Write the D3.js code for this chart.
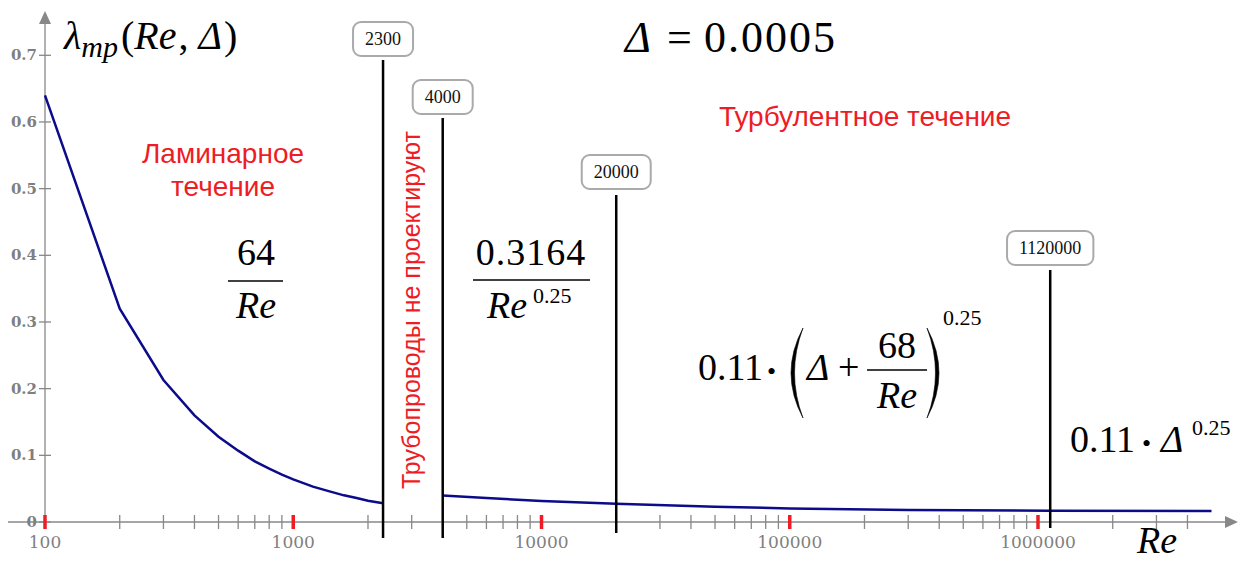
<!DOCTYPE html>
<meta charset="utf-8">
<style>
	body { margin: 0; background: #fff; }
	.axis path, .axis line { stroke: #888; stroke-width: 1.3; fill: none; }
	.ticklab { font: bold 15px "DejaVu Serif", serif; fill: #7f7f7f; }
	.curve { fill: none; stroke: #0c0c8a; stroke-width: 2.5; }
	.vline { stroke: #000; stroke-width: 2.5; }
	.box rect { fill: #fff; stroke: #aaa; stroke-width: 2; }
	.box text { font: 18px "Liberation Serif", serif; fill: #111; text-anchor: middle; }
	.note { font: 28px "Liberation Sans", "Noto Sans", sans-serif; fill: #ee1c25; }
	.math { font: 38px "Liberation Serif", serif; fill: #000; }
	.it { font-style: italic; }
	.bar { stroke: #000; stroke-width: 1.5; }
	.paren { fill: #000; stroke: #000; stroke-width: 0.6; }
</style>
<body>
<script src="https://cdn.jsdelivr.net/npm/d3@7"></script>
<script>
var width = 1240, height = 563;

// laminar part 64/Re
var lamRe = [100, 200, 300, 400, 500, 600, 700, 800, 900, 1000, 1200, 1400, 1600, 1800, 2000, 2300];
var lamL  = [0.64, 0.32, 0.213, 0.16, 0.128, 0.107, 0.091, 0.08, 0.071, 0.064, 0.053, 0.046, 0.04, 0.036, 0.032, 0.028];
// turbulent part
var turbRe = [4000, 6000, 10000, 20000, 50000, 100000, 300000, 1120000, 5000000];
var turbL  = [0.0398, 0.036, 0.0316, 0.0275, 0.0228, 0.0204, 0.0181, 0.0169, 0.0165];
// marked boundaries
var marks = [2300, 4000, 20000, 1120000];
var markTop = [60, 118, 195, 270];
var markBottom = [538, 538, 533, 528];
var boxY = [39, 97, 172, 248];
var xTicks = [100, 1000, 10000, 100000, 1000000];
var yTicks = [0, 0.1, 0.2, 0.3, 0.4, 0.5, 0.6, 0.7];

var x = d3.scaleLog().domain([100, 1e6]).range([45, 1038]);
var y = d3.scaleLinear().domain([0, 0.7]).range([522, 55.3]);

var svg = d3.select("body").append("svg")
    .attr("width", width).attr("height", height);

// axes
var ax = svg.append("g").attr("class", "axis");
ax.append("line").attr("x1", 8).attr("x2", 1228).attr("y1", y(0)).attr("y2", y(0));
ax.append("path").attr("d", "M1238," + y(0) + "l-13,-6v12z").style("fill", "#888").style("stroke", "none");
ax.append("line").attr("x1", x(100)).attr("x2", x(100)).attr("y1", 24).attr("y2", 528);
ax.append("path").attr("d", "M" + x(100) + ",11l-6,13h12z").style("fill", "#888").style("stroke", "none");

// minor x ticks
var minor = [];
for (var d = 100; d <= 1e6; d *= 10)
  for (var k = 2; k <= 9; k++) if (d * k < 5e6) minor.push(d * k);
ax.selectAll(".mt").data(minor).enter().append("line")
  .attr("x1", x).attr("x2", x).attr("y1", y(0) - 7).attr("y2", y(0) + 7);

ax.selectAll(".yt").data(yTicks).enter().append("line")
  .attr("x1", x(100) - 6).attr("x2", x(100) + 6)
  .attr("y1", y).attr("y2", y);

svg.selectAll(".ylab").data(yTicks).enter().append("text")
  .attr("class", "ticklab").attr("text-anchor", "end")
  .attr("x", 37).attr("y", function(d) { return y(d) + 5; })
  .text(function(d) { return d === 0 ? "0" : d.toFixed(1); });

// curves
var line = d3.line().x(function(d) { return x(d[0]); }).y(function(d) { return y(d[1]); });
svg.append("path").attr("class", "curve").attr("d", line(d3.zip(lamRe, lamL)));
svg.append("path").attr("class", "curve").attr("d", line(d3.zip(turbRe, turbL)));

// red decade ticks
svg.selectAll(".rt").data(xTicks).enter().append("line")
  .attr("x1", x).attr("x2", x).attr("y1", y(0) - 7).attr("y2", y(0) + 7)
  .style("stroke", "#ee1c25").style("stroke-width", 3.5);
svg.selectAll(".xlab").data(xTicks).enter().append("text")
  .attr("class", "ticklab").attr("text-anchor", "middle")
  .style("font-weight", "normal").style("font-size", "17px")
  .attr("x", x).attr("y", 548).text(function(d) { return d; });

// vertical boundaries with boxes
marks.forEach(function(m, i) {
  svg.append("line").attr("class", "vline")
    .attr("x1", x(m)).attr("x2", x(m)).attr("y1", markTop[i]).attr("y2", markBottom[i]);
  var g = svg.append("g").attr("class", "box");
  var t = g.append("text").attr("x", x(m)).attr("y", boxY[i] + 6).text(m);
  var w = t.node().getComputedTextLength() + 24;
  g.insert("rect", "text").attr("x", x(m) - w / 2).attr("y", boxY[i] - 17)
    .attr("width", w).attr("height", 34).attr("rx", 8);
});

// red notes
svg.append("text").attr("class", "note").attr("text-anchor", "middle")
  .attr("x", 223).attr("y", 163).text("Ламинарное");
svg.append("text").attr("class", "note").attr("text-anchor", "middle")
  .attr("x", 223).attr("y", 196).text("течение");
svg.append("text").attr("class", "note").attr("text-anchor", "middle")
  .attr("x", 865).attr("y", 126).text("Турбулентное течение");
svg.append("text").attr("class", "note").attr("text-anchor", "middle")
  .style("font-size", "25px")
  .attr("transform", "translate(420,310) rotate(-90)").text("Трубопроводы не проектируют");

// math labels
function math(xp, yp, size) {
  return svg.append("text").attr("class", "math").attr("x", xp).attr("y", yp)
    .style("font-size", size + "px");
}
function bar(x1, x2, yp) {
  svg.append("line").attr("class", "bar").attr("x1", x1).attr("x2", x2).attr("y1", yp).attr("y2", yp);
}
var t1 = math(64, 49, 40);
t1.append("tspan").attr("class", "it").text("λ");
t1.append("tspan").attr("class", "it").attr("dy", 8).style("font-size", "30px").text("mp");
t1.append("tspan").attr("dy", -8).attr("dx", 3).text("(");
t1.append("tspan").attr("class", "it").text("Re");
t1.append("tspan").attr("dx", 2).text(",");
t1.append("tspan").attr("class", "it").attr("dx", 10).text("Δ");
t1.append("tspan").attr("dx", 2).text(")");

math(625, 52, 44).attr("class", "math it").text("Δ");
math(667, 52, 44).text("=");
math(704, 52, 44).style("letter-spacing", "2px").text("0.0005");

math(1137, 553, 38).attr("class", "math it").text("Re");

// 64 / Re
math(256, 265, 38).attr("text-anchor", "middle").text("64");
bar(228, 283, 281);
math(256, 318, 38).attr("text-anchor", "middle").attr("class", "math it").text("Re");

// 0.3164 / Re^0.25
math(531, 265, 38).attr("text-anchor", "middle").style("letter-spacing", "1px").text("0.3164");
bar(473, 590, 280);
math(487, 318, 38).attr("class", "math it").text("Re");
math(533, 303, 22).text("0.25");

// 0.11·(Δ+68/Re)^0.25
math(698, 380, 38).text("0.11");
math(767, 380, 26).text("•");
svg.append("path").attr("class", "paren").attr("d", "M803,328Q779,373 803,418Q786,373 803,328Z");
math(807, 380, 38).attr("class", "math it").text("Δ");
math(838, 380, 38).text("+");
math(897, 358, 38).attr("text-anchor", "middle").text("68");
bar(867, 927, 370);
math(897, 408, 38).attr("text-anchor", "middle").attr("class", "math it").text("Re");
svg.append("path").attr("class", "paren").attr("d", "M927,328Q951,373 927,418Q944,373 927,328Z");
math(943, 325, 22).text("0.25");

// 0.11·Δ^0.25
math(1070, 452, 38).text("0.11");
math(1142, 452, 26).text("•");
math(1161, 452, 38).attr("class", "math it").text("Δ");
math(1192, 435, 22).text("0.25");
</script>
</body>
